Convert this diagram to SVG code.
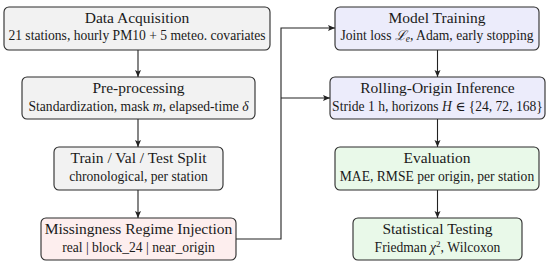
<svg xmlns="http://www.w3.org/2000/svg" width="550" height="266" viewBox="0 0 550 266">
<defs>
<marker id="ah" markerWidth="8" markerHeight="8" refX="7" refY="4" orient="auto" markerUnits="userSpaceOnUse">
<path d="M0,1 L7,4 L0,7 L1.5,4 Z" fill="#222"/>
</marker>
<style>
.box{stroke:#2a2a2a;stroke-width:1.1}
.gray{fill:#f2f2f2}.pink{fill:#fdeeee}.blue{fill:#ececfb}.green{fill:#e9f9e9}
.t{font-family:"Liberation Serif","DejaVu Serif",serif;font-size:15.5px;fill:#1a1a1a;text-anchor:middle}
.s{font-family:"Liberation Serif","DejaVu Serif",serif;font-size:13.6px;fill:#1a1a1a;text-anchor:middle}
.i{font-style:italic}
.c{fill:none;stroke:#222;stroke-width:1.1}
</style>
</defs>
<rect width="550" height="266" fill="#fff"/>
<g id="connectors">
<line class="c" x1="138" y1="50" x2="138" y2="77" marker-end="url(#ah)"/>
<line class="c" x1="138" y1="119" x2="138" y2="147" marker-end="url(#ah)"/>
<line class="c" x1="138" y1="190" x2="138" y2="218" marker-end="url(#ah)"/>
<polyline class="c" points="236,239 281,239 281,28 335,28" marker-end="url(#ah)"/>
<line class="c" x1="281" y1="98" x2="330" y2="98" marker-end="url(#ah)"/>
<line class="c" x1="437.5" y1="50" x2="437.5" y2="77" marker-end="url(#ah)"/>
<line class="c" x1="437.5" y1="119" x2="437.5" y2="147" marker-end="url(#ah)"/>
<line class="c" x1="437.5" y1="190" x2="437.5" y2="218" marker-end="url(#ah)"/>
</g>
<g id="data-acquisition">
<rect class="box gray" x="4" y="7" width="266" height="43" rx="5"/>
<text class="t" x="137" y="23">Data Acquisition</text>
<text class="s" x="137" y="40">21 stations, hourly PM10 + 5 meteo. covariates</text>
</g>
<g id="pre-processing">
<rect class="box gray" x="22" y="77" width="233" height="42" rx="5"/>
<text class="t" x="138.5" y="93">Pre-processing</text>
<text class="s" x="138.5" y="111">Standardization, mask <tspan class="i">m</tspan>, elapsed-time <tspan class="i">δ</tspan></text>
</g>
<g id="split">
<rect class="box gray" x="54" y="147" width="169" height="43" rx="5"/>
<text class="t" x="138.5" y="163">Train / Val / Test Split</text>
<text class="s" x="138.5" y="181">chronological, per station</text>
</g>
<g id="missingness">
<rect class="box pink" x="41" y="218" width="195" height="42" rx="5"/>
<text class="t" x="138.5" y="234">Missingness Regime Injection</text>
<text class="s" x="138.5" y="252">real | block_24 | near_origin</text>
</g>
<g id="model-training">
<rect class="box blue" x="335" y="7" width="204" height="43" rx="5"/>
<text class="t" x="437" y="23">Model Training</text>
<text class="s" x="437" y="40">Joint loss <tspan class="i">ℒ</tspan><tspan class="i" font-size="9.5" dy="2">e</tspan><tspan dy="-2">, Adam, early stopping</tspan></text>
</g>
<g id="rolling-origin">
<rect class="box blue" x="330" y="77" width="215" height="42" rx="5"/>
<text class="t" x="437.5" y="93">Rolling-Origin Inference</text>
<text class="s" x="437.5" y="111">Stride 1 h, horizons <tspan class="i">H</tspan> ∈ {24, 72, 168}</text>
</g>
<g id="evaluation">
<rect class="box green" x="335" y="147" width="204" height="43" rx="5"/>
<text class="t" x="437" y="163">Evaluation</text>
<text class="s" x="437" y="181">MAE, RMSE per origin, per station</text>
</g>
<g id="statistical-testing">
<rect class="box green" x="353" y="218" width="169" height="42" rx="5"/>
<text class="t" x="437.5" y="234">Statistical Testing</text>
<text class="s" x="437.5" y="252">Friedman <tspan class="i">χ</tspan><tspan font-size="9" dy="-5">2</tspan><tspan dy="5">, Wilcoxon</tspan></text>
</g>
</svg>
